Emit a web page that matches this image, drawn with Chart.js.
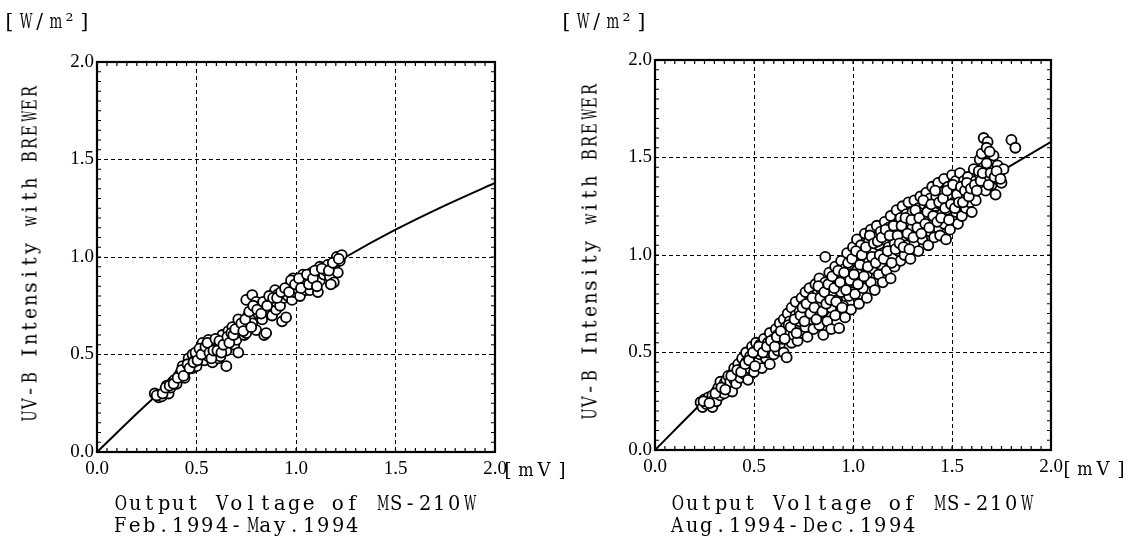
<!DOCTYPE html>
<html>
<head>
<meta charset="utf-8">
<script src="https://cdn.jsdelivr.net/npm/chart.js@4.4.1/dist/chart.umd.min.js"></script>
<style>
  body { margin: 0; background: #fff; width: 1131px; height: 540px; position: relative; overflow: hidden; }
  canvas { position: absolute; top: 0; }
  .txt { position: absolute; font-family: 'DejaVu Serif', serif; color: #000; white-space: nowrap; line-height: 1; }
  .txt span { display: inline-block; text-align: center; }
  .unit { font-size: 20px; }
  .ytitle { font-size: 21px; transform: translate(-50%, -50%) rotate(-90deg); }
  .xtitle { font-size: 20px; }
  .mv { font-size: 18px; }
</style>
</head>
<body>
<canvas id="left" width="565" height="540" style="left:0"></canvas>
<canvas id="right" width="566" height="540" style="left:565px"></canvas>

<div class="txt unit" data-pitch="15" style="left:2px;top:11px">[W/m²]</div>
<div class="txt ytitle" data-pitch="13" style="left:30px;top:255px">UV-B Intensity with BREWER</div>
<div class="txt mv" data-pitch="18" style="left:499px;top:461px">[mV]</div>
<div class="txt xtitle" data-pitch="14.5" style="left:113px;top:493px">Output Voltage of MS-210W</div>
<div class="txt xtitle" data-pitch="14.5" style="left:113px;top:515px">Feb.1994-May.1994</div>

<div class="txt unit" data-pitch="15" style="left:559px;top:11px">[W/m²]</div>
<div class="txt ytitle" data-pitch="13" style="left:590px;top:253px">UV-B Intensity with BREWER</div>
<div class="txt mv" data-pitch="18" style="left:1058px;top:460px">[mV]</div>
<div class="txt xtitle" data-pitch="14.5" style="left:670px;top:493px">Output Voltage of MS-210W</div>
<div class="txt xtitle" data-pitch="14.5" style="left:670px;top:515px">Aug.1994-Dec.1994</div>

<script>
// axis ticks (both panels)
const tickValues = [0, 0.5, 1.0, 1.5, 2.0];

// fitted curves
const curveX = [0, 0.25, 0.5, 0.75, 1.0, 1.25, 1.5, 1.75, 2.0];
const febCurveY = [0, 0.245, 0.47, 0.675, 0.845, 1.0, 1.14, 1.265, 1.38];
const augCurveY = [0, 0.255, 0.50, 0.73, 0.94, 1.12, 1.28, 1.43, 1.58];

// Feb.1994 - May.1994 measurements [voltage mV, intensity W/m2]
const febPoints = [
  [0.29,0.30],[0.31,0.28],[0.325,0.285],[0.34,0.31],[0.35,0.34],[0.36,0.30],[0.37,0.33],[0.38,0.36],[0.39,0.37],[0.40,0.35],[0.41,0.39],
  [0.42,0.405],[0.43,0.44],[0.44,0.38],[0.45,0.42],[0.46,0.48],[0.47,0.45],[0.48,0.50],[0.48,0.43],[0.49,0.47],[0.50,0.44],[0.51,0.49],[0.52,0.52],
  [0.53,0.56],[0.54,0.47],[0.55,0.51],[0.56,0.575],[0.56,0.49],[0.57,0.53],[0.58,0.46],[0.59,0.55],[0.60,0.575],[0.60,0.50],[0.61,0.48],[0.62,0.54],[0.62,0.49],
  [0.63,0.60],[0.64,0.56],[0.65,0.52],[0.65,0.44],[0.66,0.62],[0.67,0.58],[0.68,0.64],[0.69,0.55],[0.70,0.575],[0.70,0.61],[0.71,0.51],[0.71,0.68],[0.72,0.63],
  [0.73,0.65],[0.74,0.60],[0.75,0.61],[0.75,0.78],[0.76,0.70],[0.77,0.69],[0.78,0.805],[0.78,0.66],[0.79,0.73],[0.80,0.625],[0.80,0.77],[0.81,0.71],[0.82,0.75],
  [0.83,0.68],[0.84,0.60],[0.85,0.61],[0.85,0.77],[0.86,0.73],[0.87,0.79],[0.88,0.70],[0.895,0.83],[0.90,0.73],[0.90,0.77],[0.91,0.81],[0.92,0.75],
  [0.93,0.67],[0.94,0.79],[0.95,0.69],[0.95,0.83],[0.96,0.80],[0.97,0.85],[0.98,0.78],[0.985,0.89],[0.99,0.82],[1.00,0.84],[1.01,0.87],[1.02,0.80],
  [1.035,0.91],[1.04,0.85],[1.045,0.87],[1.05,0.83],[1.06,0.89],[1.07,0.83],[1.08,0.92],[1.09,0.86],[1.10,0.90],[1.11,0.82],[1.12,0.95],[1.12,0.88],
  [1.14,0.91],[1.15,0.93],[1.16,0.96],[1.17,0.90],[1.18,0.94],[1.19,0.87],[1.20,0.97],[1.205,1.0],[1.21,0.92],[1.22,0.98],[1.23,1.01],
  [0.30,0.29],[0.33,0.30],[0.345,0.33],[0.365,0.34],[0.385,0.35],[0.405,0.38],[0.425,0.42],[0.435,0.39],[0.455,0.45],[0.465,0.43],
  [0.485,0.46],[0.495,0.51],[0.505,0.47],[0.515,0.53],[0.525,0.50],[0.545,0.54],[0.555,0.56],[0.565,0.51],[0.575,0.48],[0.585,0.52],
  [0.595,0.58],[0.605,0.52],[0.615,0.57],[0.625,0.51],[0.635,0.55],[0.655,0.59],[0.665,0.56],[0.675,0.61],[0.685,0.60],[0.695,0.63],
  [0.725,0.66],[0.735,0.62],[0.745,0.68],[0.765,0.72],[0.775,0.64],[0.785,0.75],[0.805,0.73],[0.825,0.71],[0.835,0.77],[0.855,0.75],
  [0.865,0.80],[0.885,0.79],[0.905,0.79],[0.925,0.82],[0.945,0.84],[0.965,0.82],[0.975,0.88],[0.995,0.86],[1.015,0.89],[1.025,0.84],
  [1.055,0.91],[1.065,0.86],[1.085,0.89],[1.095,0.93],[1.105,0.85],[1.13,0.94],[1.165,0.93],[1.185,0.97],[1.215,0.99],[1.175,0.86]
];

// Aug.1994 - Dec.1994 measurements
const augPoints = [
  [0.23,0.245],[0.24,0.22],[0.25,0.26],[0.26,0.235],[0.27,0.27],[0.28,0.25],[0.29,0.22],[0.29,0.28],[0.30,0.26],[0.31,0.30],[0.31,0.25],
  [0.32,0.32],[0.33,0.28],[0.33,0.35],[0.34,0.31],[0.35,0.34],[0.35,0.29],[0.36,0.36],[0.37,0.32],[0.37,0.38],[0.38,0.35],[0.39,0.30],[0.39,0.39],[0.40,0.36],[0.40,0.42],
  [0.41,0.34],[0.42,0.40],[0.42,0.44],[0.43,0.37],[0.44,0.42],[0.44,0.47],[0.45,0.39],[0.46,0.45],[0.46,0.50],[0.47,0.42],[0.47,0.36],[0.48,0.48],[0.49,0.44],[0.49,0.53],[0.50,0.40],[0.50,0.47],[0.51,0.51],[0.51,0.55],
  [0.52,0.45],[0.53,0.49],[0.53,0.54],[0.54,0.42],[0.55,0.52],[0.55,0.57],[0.56,0.47],[0.57,0.55],[0.57,0.50],[0.58,0.60],[0.58,0.44],[0.59,0.53],[0.60,0.57],[0.60,0.49],[0.61,0.62],[0.61,0.55],[0.62,0.51],[0.62,0.59],
  [0.63,0.65],[0.63,0.54],[0.64,0.60],[0.64,0.57],[0.65,0.67],[0.65,0.50],[0.66,0.63],[0.665,0.475],[0.67,0.58],[0.67,0.70],[0.68,0.61],[0.68,0.66],[0.69,0.55],[0.69,0.73],[0.70,0.64],[0.70,0.59],[0.71,0.69],[0.71,0.76],[0.72,0.62],[0.72,0.56],
  [0.73,0.71],[0.73,0.66],[0.74,0.78],[0.74,0.60],[0.75,0.68],[0.75,0.74],[0.76,0.81],[0.76,0.63],[0.77,0.71],[0.77,0.58],[0.78,0.76],[0.78,0.83],[0.79,0.67],[0.79,0.72],[0.80,0.79],[0.80,0.62],[0.81,0.85],[0.81,0.74],[0.82,0.69],[0.82,0.80],
  [0.83,0.64],[0.83,0.88],[0.84,0.76],[0.84,0.82],[0.85,0.59],[0.85,0.71],[0.86,0.99],[0.86,0.86],[0.87,0.78],[0.87,0.66],[0.88,0.83],[0.88,0.91],[0.89,0.73],[0.89,0.62],[0.90,0.87],[0.90,0.80],[0.91,0.94],[0.91,0.69],[0.92,0.84],[0.92,0.77],
  [0.93,0.625],[0.93,0.90],[0.94,0.97],[0.94,0.81],[0.95,0.74],[0.95,0.88],[0.96,0.93],[0.96,0.68],[0.97,1.01],[0.97,0.85],[0.98,0.79],[0.98,0.95],[0.99,0.90],[0.99,0.72],[1.00,1.04],[1.00,0.86],[1.01,0.97],[1.01,0.80],[1.02,1.08],[1.02,0.92],
  [1.03,0.75],[1.03,0.99],[1.04,0.88],[1.04,1.05],[1.05,0.83],[1.05,0.95],[1.06,1.11],[1.06,1.01],[1.07,0.90],[1.07,0.78],[1.08,1.07],[1.08,0.97],[1.09,0.86],[1.09,1.13],[1.10,1.02],[1.10,0.93],[1.11,0.82],[1.11,1.09],[1.12,0.99],[1.12,1.15],
  [1.13,0.90],[1.13,1.05],[1.14,1.12],[1.14,0.95],[1.15,1.01],[1.15,0.86],[1.16,1.17],[1.16,1.08],[1.17,0.98],[1.17,0.92],[1.18,1.14],[1.18,1.04],[1.19,0.88],[1.19,1.20],[1.20,1.10],[1.20,0.99],[1.21,1.06],[1.21,0.94],[1.22,1.16],[1.22,1.23],
  [1.23,1.02],[1.23,1.12],[1.24,0.97],[1.24,1.19],[1.25,1.08],[1.25,1.25],[1.26,1.14],[1.26,1.00],[1.27,1.21],[1.27,1.05],[1.28,1.16],[1.28,1.27],[1.29,1.10],[1.29,0.98],[1.30,1.22],[1.30,1.14],[1.31,1.06],[1.31,1.28],[1.32,1.18],[1.32,1.11],
  [1.33,1.24],[1.33,1.02],[1.34,1.15],[1.34,1.30],[1.35,1.20],[1.35,1.08],[1.36,1.26],[1.36,1.13],[1.37,1.32],[1.37,1.18],[1.38,1.05],[1.38,1.23],[1.39,1.29],[1.39,1.12],[1.40,1.17],[1.40,1.35],[1.41,1.24],[1.41,1.09],[1.42,1.30],[1.42,1.20],
  [1.43,1.37],[1.43,1.14],[1.44,1.26],[1.44,1.10],[1.45,1.32],[1.45,1.21],[1.46,1.39],[1.46,1.16],[1.47,1.28],[1.47,1.08],[1.48,1.35],[1.48,1.23],[1.49,1.13],[1.49,1.30],[1.50,1.41],[1.50,1.19],[1.51,1.27],[1.51,1.34],[1.52,1.22],[1.52,1.38],
  [1.53,1.30],[1.53,1.16],[1.54,1.25],[1.54,1.42],[1.55,1.34],[1.55,1.20],[1.56,1.29],[1.56,1.38],[1.57,1.24],[1.58,1.33],[1.58,1.40],[1.59,1.27],[1.60,1.36],[1.60,1.22],[1.61,1.31],[1.61,1.44],[1.62,1.38],[1.62,1.28],
  [1.63,1.34],[1.64,1.41],[1.64,1.49],[1.65,1.37],[1.65,1.52],[1.66,1.60],[1.66,1.45],[1.67,1.33],[1.68,1.58],[1.68,1.40],[1.69,1.48],[1.70,1.36],[1.70,1.44],[1.71,1.51],[1.72,1.39],[1.72,1.31],[1.73,1.46],[1.74,1.42],[1.75,1.37],[1.76,1.44],
  [1.80,1.59],[1.82,1.55],
  [0.245,0.25],[0.275,0.24],[0.305,0.29],[0.335,0.32],[0.355,0.31],[0.385,0.38],[0.415,0.41],[0.435,0.40],[0.455,0.44],[0.475,0.46],
  [0.495,0.50],[0.505,0.43],[0.525,0.53],[0.545,0.50],[0.565,0.53],[0.585,0.56],[0.605,0.53],[0.615,0.58],[0.635,0.61],[0.655,0.57],
  [0.675,0.64],[0.685,0.63],[0.705,0.67],[0.715,0.60],[0.735,0.69],[0.745,0.73],[0.755,0.66],[0.765,0.75],[0.785,0.70],[0.795,0.78],
  [0.805,0.73],[0.815,0.67],[0.825,0.84],[0.835,0.78],[0.845,0.71],[0.855,0.81],[0.865,0.75],[0.875,0.85],[0.885,0.77],[0.895,0.89],
  [0.905,0.83],[0.915,0.76],[0.925,0.92],[0.935,0.86],[0.945,0.73],[0.955,0.91],[0.965,0.82],[0.975,0.96],[0.985,0.87],[0.995,0.98],
  [1.005,0.90],[1.015,1.02],[1.025,0.85],[1.035,0.95],[1.045,1.00],[1.055,0.89],[1.065,1.04],[1.075,0.94],[1.085,1.10],[1.095,0.99],
  [1.105,1.06],[1.115,0.96],[1.125,1.07],[1.135,1.00],[1.145,1.09],[1.155,0.98],[1.165,1.13],[1.175,1.02],[1.185,1.10],[1.195,0.96],
  [1.205,1.15],[1.215,1.03],[1.225,1.10],[1.235,1.06],[1.245,1.15],[1.255,1.04],[1.265,1.19],[1.275,1.11],[1.285,1.03],[1.295,1.18],
  [1.305,1.09],[1.315,1.23],[1.325,1.14],[1.335,1.19],[1.345,1.11],[1.355,1.28],[1.365,1.16],[1.375,1.22],[1.385,1.14],[1.395,1.26],
  [1.405,1.20],[1.415,1.33],[1.425,1.17],[1.435,1.27],[1.445,1.19],[1.455,1.29],[1.465,1.24],[1.475,1.33],[1.485,1.18],[1.495,1.26],
  [1.505,1.36],[1.515,1.24],[1.525,1.31],[1.535,1.27],[1.545,1.35],[1.555,1.27],[1.565,1.33],[1.575,1.37],[1.585,1.30],[1.595,1.34],
  [1.615,1.36],[1.625,1.33],[1.635,1.43],[1.645,1.38],[1.655,1.42],[1.675,1.47],[1.685,1.36],[1.695,1.42],[1.715,1.40],[1.725,1.43],
  [1.745,1.39],[1.675,1.55],[1.69,1.53]
];

// fixed-pitch lettering like the typewriter labels of the original;
// wide glyphs (M, W, m, w) are squeezed so they stay inside their cell
const measure = document.createElement('canvas').getContext('2d');
document.querySelectorAll('.txt').forEach(el => {
  const pitch = parseFloat(el.dataset.pitch);
  const cs = getComputedStyle(el);
  measure.font = cs.fontSize + ' ' + cs.fontFamily;
  const text = el.textContent;
  el.textContent = '';
  for (const ch of text) {
    const s = document.createElement('span');
    s.style.width = pitch + 'px';
    s.textContent = ch === ' ' ? '\u00a0' : ch;
    const w = measure.measureText(ch).width;
    if (w > pitch * 0.85) s.style.transform = 'scaleX(' + (pitch * 0.85 / w).toFixed(3) + ')';
    el.appendChild(s);
  }
});

// frame + small inward ticks every 0.05
const framePlugin = {
  id: 'frame',
  afterDatasetsDraw(chart) {
    const { ctx, chartArea: a, scales: { x, y } } = chart;
    ctx.save();
    ctx.strokeStyle = '#000';
    ctx.lineWidth = 1.2;
    ctx.beginPath();
    for (let i = 1; i < 40; i++) {
      const px = x.getPixelForValue(i * 0.05);
      const py = y.getPixelForValue(i * 0.05);
      ctx.moveTo(px, a.bottom); ctx.lineTo(px, a.bottom - 4);
      ctx.moveTo(px, a.top); ctx.lineTo(px, a.top + 4);
      ctx.moveTo(a.left, py); ctx.lineTo(a.left + 4, py);
      ctx.moveTo(a.right, py); ctx.lineTo(a.right - 4, py);
    }
    ctx.stroke();
    ctx.lineWidth = 2.2;
    ctx.strokeRect(a.left, a.top, a.right - a.left, a.bottom - a.top);
    ctx.restore();
  }
};

function axis(fitFn, pad) {
  return {
    type: 'linear',
    min: 0,
    max: 2,
    afterBuildTicks: s => { s.ticks = tickValues.map(v => ({ value: v })); },
    afterFit: fitFn,
    ticks: {
      color: '#000',
      padding: pad,
      font: { family: 'Liberation Serif', size: 19 },
      callback: v => v.toFixed(1)
    },
    grid: {
      drawTicks: false,
      lineWidth: 1,
      color: c => (c.tick && c.tick.value > 0 && c.tick.value < 2) ? '#000' : 'rgba(0,0,0,0)'
    },
    border: { display: false, dash: [4, 3] }
  };
}

function drawPanel(id, points, curveY, box) {
  const canvas = document.getElementById(id);
  const curve = curveX.map((v, i) => ({ x: v, y: curveY[i] }));
  new Chart(canvas, {
    type: 'scatter',
    data: {
      datasets: [{
        data: points.map(p => ({ x: p[0], y: p[1] })),
        pointRadius: 5,
        pointBackgroundColor: '#fff',
        pointBorderColor: '#000',
        pointBorderWidth: 1.8,
        order: 1
      }, {
        type: 'line',
        data: curve,
        borderColor: '#000',
        borderWidth: 2,
        pointRadius: 0,
        cubicInterpolationMode: 'monotone',
        order: 2
      }]
    },
    options: {
      responsive: false,
      animation: false,
      devicePixelRatio: 1,
      layout: { padding: { left: 0, top: box.top, right: canvas.width - box.right, bottom: 0 } },
      plugins: { legend: { display: false }, tooltip: { enabled: false } },
      scales: {
        x: axis(s => { s.height = canvas.height - box.bottom; }, 6),
        y: axis(s => { s.width = box.left; }, 3)
      }
    },
    plugins: [framePlugin]
  });
}

drawPanel('left', febPoints, febCurveY, { left: 97, right: 495, top: 62, bottom: 452 });
drawPanel('right', augPoints, augCurveY, { left: 90, right: 486, top: 60, bottom: 450 });
</script>
</body>
</html>
